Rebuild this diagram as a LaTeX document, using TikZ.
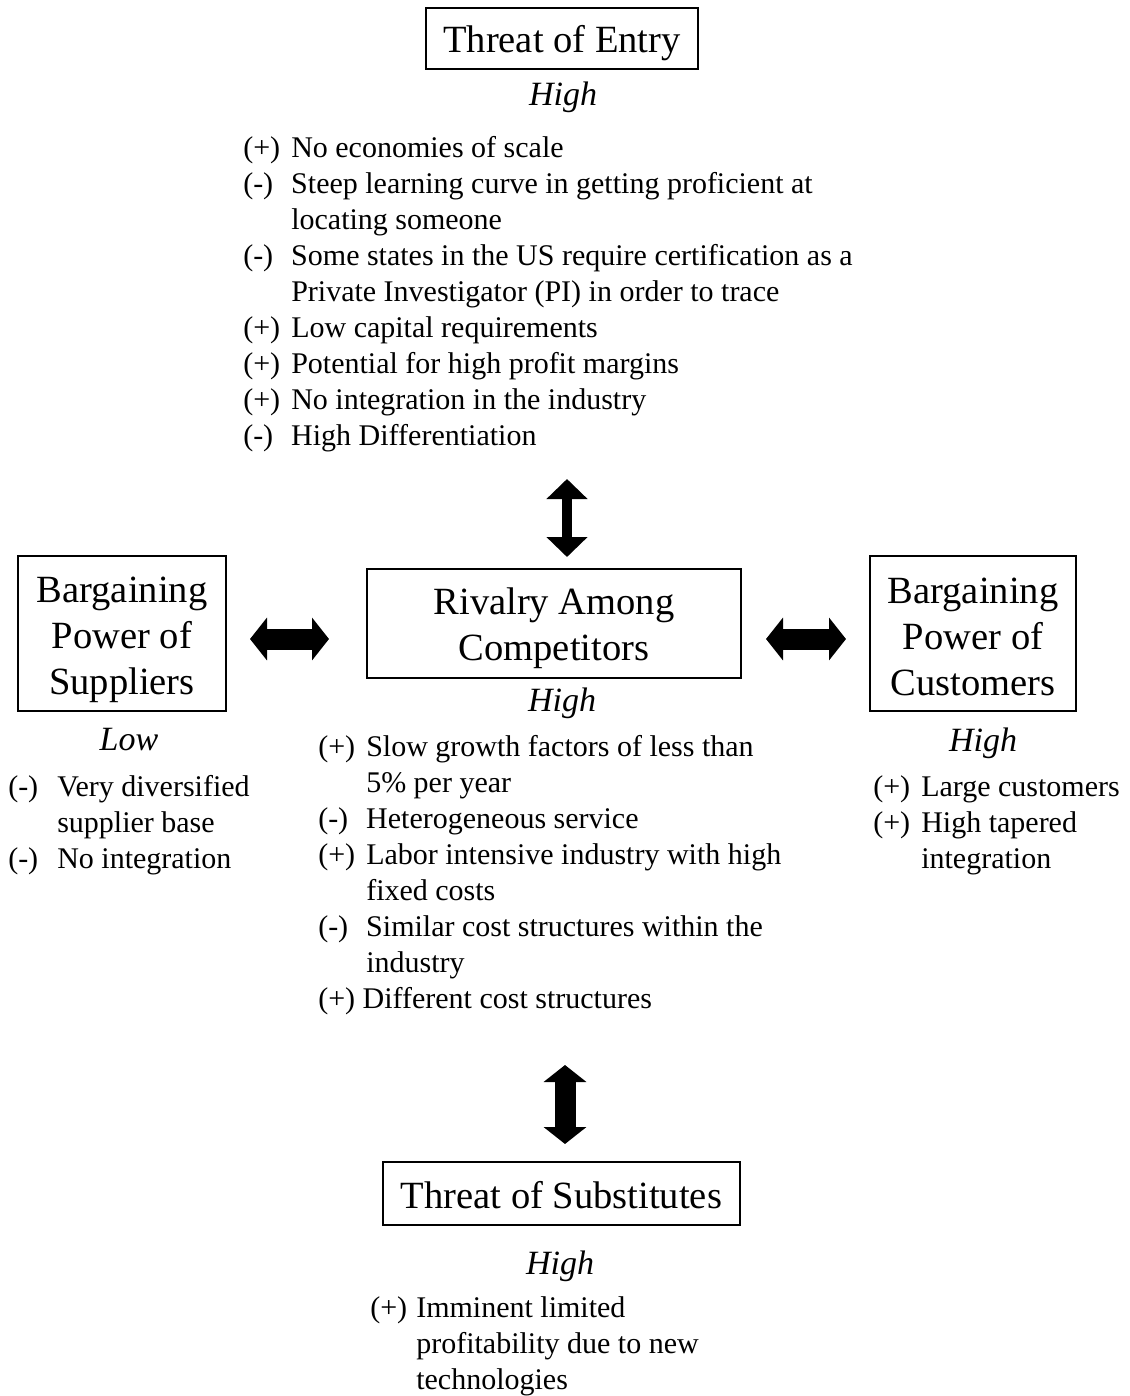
\documentclass[tikz,border=0pt]{standalone}
\usepackage{fontspec}
\setmainfont{Liberation Serif}
\usetikzlibrary{arrows.meta}
\newcommand{\bodyfont}{\fontsize{22.5}{27}\selectfont}
\newcommand{\titlefont}{\fontsize{28.9}{34.3}\selectfont}
\newcommand{\levelfont}{\fontsize{25.5}{30}\selectfont}
\newcommand{\lift}[1]{\rule{0pt}{#1}}
\begin{document}
\begin{tikzpicture}[x=0.75pt,y=-0.75pt,
  forcebox/.style={draw,line width=1.3pt,inner sep=0pt,align=center,font=\titlefont},
  level/.style={font=\levelfont\itshape,inner sep=0pt},
  itemlist/.style={anchor=base west,inner sep=0pt,font=\bodyfont},
  thinarrow/.style={line width=7.5pt,{Triangle[width=30pt,length=15pt]}-{Triangle[width=30pt,length=15pt]}},
  thickarrow/.style={line width=15.75pt,{Triangle[width=31.5pt,length=12.75pt]}-{Triangle[width=31.5pt,length=12.75pt]}}]
\useasboundingbox (0,0) rectangle (1130,1396);
% boxes
\node[forcebox,minimum width=204pt,minimum height=45.75pt] (entry) at (562,38.5) {\lift{27pt}Threat of Entry};
\node[forcebox,minimum width=280.5pt,minimum height=81.75pt] (riv) at (554,623.5) {\lift{27pt}Rivalry Among\\Competitors};
\node[forcebox,minimum width=156pt,minimum height=116.25pt] (sup) at (122,633.5) {\lift{28.5pt}Bargaining\\Power of\\Suppliers};
\node[forcebox,minimum width=154.5pt,minimum height=116.25pt] (cus) at (973,633.5) {\lift{24pt}Bargaining\\Power of\\Customers};
\node[forcebox,minimum width=267.75pt,minimum height=47.25pt] (sub) at (561.5,1193.5) {\lift{22.5pt}Threat of Substitutes};
% levels
\node[level] (entryL) at (563,97) {High};
\node[level] (rivL) at (562,703) {High};
\node[level] (supL) at (129,740) {Low};
\node[level] (cusL) at (983,743) {High};
\node[level] (subL) at (560,1266) {High};
% lists
\node[itemlist] (entryT) at (243,157) {\begin{tabular}[t]{@{}p{36pt}@{}l@{}}
(+) & No economies of scale\\
(-) & Steep learning curve in getting proficient at\\
    & locating someone\\
(-) & Some states in the US require certification as a\\
    & Private Investigator (PI) in order to trace\\
(+) & Low capital requirements\\
(+) & Potential for high profit margins\\
(+) & No integration in the industry\\
(-) & High Differentiation
\end{tabular}};
\node[itemlist] (rivT) at (318,756) {\begin{tabular}[t]{@{}p{36pt}@{}l@{}}
(+) & Slow growth factors of less than\\
    & 5\% per year\\
(-) & Heterogeneous service\\
(+) & Labor intensive industry with high\\
    & fixed costs\\
(-) & Similar cost structures within the\\
    & industry\\
\multicolumn{2}{@{}l@{}}{(+) Different cost structures}
\end{tabular}};
\node[itemlist] (supT) at (8,796) {\begin{tabular}[t]{@{}p{36.75pt}@{}l@{}}
(-) & Very diversified\\
    & supplier base\\
(-) & No integration
\end{tabular}};
\node[itemlist] (cusT) at (873,796) {\begin{tabular}[t]{@{}p{36pt}@{}l@{}}
(+) & Large customers\\
(+) & High tapered\\
    & integration
\end{tabular}};
\node[itemlist] (subT) at (370,1317) {\begin{tabular}[t]{@{}p{34.5pt}@{}l@{}}
(+) & Imminent limited\\
    & profitability due to new\\
    & technologies
\end{tabular}};
% arrows
\coordinate (ta) at (567,479);
\coordinate (tb) at (567,557);
\coordinate (la) at (250,639);
\coordinate (lb) at (329,639);
\coordinate (ra) at (766,639);
\coordinate (rb) at (846,639);
\coordinate (ba) at (565,1065);
\coordinate (bb) at (565,1144);
\draw[thinarrow] (ta) -- (tb);
\draw[thickarrow] (la) -- (lb);
\draw[thickarrow] (ra) -- (rb);
\draw[thickarrow] (ba) -- (bb);
\end{tikzpicture}
\end{document}
